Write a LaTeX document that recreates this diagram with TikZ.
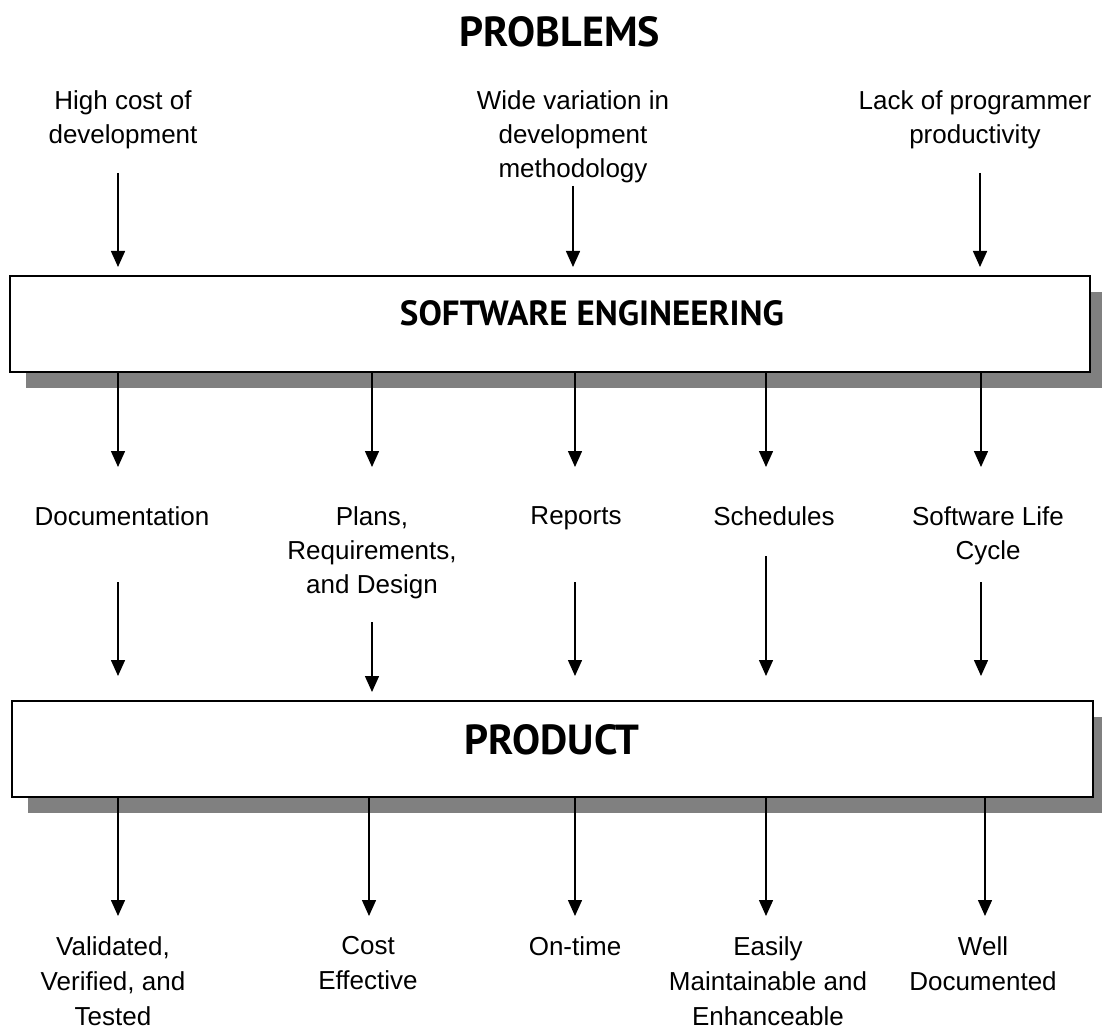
\documentclass[tikz,border=0pt]{standalone}
\usepackage{fontspec}
\setmainfont{Liberation Sans}
\newfontfamily\titlefont{PT Sans}
\usetikzlibrary{positioning,arrows.meta,shadows}
\definecolor{shadowGray}{HTML}{808080}
\def\topY{90}
\def\midY{506}
\def\botY{936}

\begin{document}
\begin{tikzpicture}[
  x=1pt, y=-1pt,
  font=\fontsize{26}{34}\selectfont,
  >={Triangle[width=14pt,length=16pt]},
  lbl/.style={align=center, inner sep=0pt, anchor=north},
  heading/.style={font=\titlefont\bfseries\fontsize{42}{46}\selectfont, inner sep=0pt},
  bigbox/.style={draw, line width=2pt, fill=white, minimum height=96pt,
                 drop shadow={shadow xshift=16pt, shadow yshift=-16pt, fill=shadowGray, opacity=1}},
  arr/.style={->, line width=1.5pt},
]
\useasboundingbox (0,0) rectangle (1102,1032);

% =====================================================================
% TITLE + PROBLEMS
% =====================================================================
\node[heading] (problems) at (560,32) {PROBLEMS};
\node[lbl] (hicost)  at (123,\topY) {High cost of\\development};
\node[lbl] (widevar) at (573,\topY) {Wide variation in\\development\\methodology};
\node[lbl] (lack)    at (975,\topY) {Lack of programmer\\productivity};

% =====================================================================
% BOXES
% =====================================================================
\node[bigbox, minimum width=1080pt] (se)   at (550,324)   {};
\node[heading, font=\titlefont\bfseries\fontsize{35}{40}\selectfont] (setext) at (592,313) {SOFTWARE ENGINEERING};
\node[bigbox, minimum width=1081pt] (prod) at (552.5,749) {};
\node[heading] (prodtext) at (552,740) {PRODUCT};

% problems -> software engineering
\foreach \n/\x/\y in {a/118/173, b/573/186, c/980/173}{
  \coordinate (top\n) at (\x,\y);
  \draw[arr, shorten >=8pt] (top\n) -- (top\n |- se.north);}

% =====================================================================
% MIDDLE ROW : what software engineering gives
% =====================================================================
\node[lbl] (doc)   at (122,\midY) {Documentation};
\node[lbl] (plans) at (372,\midY) {Plans,\\Requirements,\\and Design};
\node[lbl] (rep)   at (576,\midY) {Reports};
\node[lbl] (sched) at (774,\midY) {Schedules};
\node[lbl] (slc)   at (988,\midY) {Software Life\\Cycle};

\foreach \n/\x in {a/118, b/372, c/575, d/766, e/981}{
  \coordinate (mid\n) at (\x,467);
  \draw[arr] (se.south -| mid\n) -- (mid\n);}

% middle row -> product
\foreach \n/\x/\y/\g in {a/118/582/24, b/372/622/8, c/575/582/24, d/766/556/24, e/981/582/24}{
  \coordinate (low\n) at (\x,\y);
  \draw[arr, shorten >=\g pt] (low\n) -- (low\n |- prod.north);}

% =====================================================================
% BOTTOM ROW : product qualities
% =====================================================================
\foreach \n/\x in {a/118, b/369, c/575, d/766, e/985}{
  \coordinate (bot\n) at (\x,916);
  \draw[arr] (prod.south -| bot\n) -- (bot\n);}

\node[lbl, font=\fontsize{26}{35}\selectfont] (vvt)     at (113,\botY) {Validated,\\Verified, and\\Tested};
\node[lbl, font=\fontsize{26}{35}\selectfont] (cost)    at (368,\botY) {Cost\\Effective};
\node[lbl] (ontime)  at (575,\botY) {On-time};
\node[lbl, font=\fontsize{26}{35}\selectfont] (easy)    at (768,\botY) {Easily\\Maintainable and\\Enhanceable};
\node[lbl, font=\fontsize{26}{35}\selectfont] (welldoc) at (983,\botY) {Well\\Documented};

\end{tikzpicture}
\end{document}
